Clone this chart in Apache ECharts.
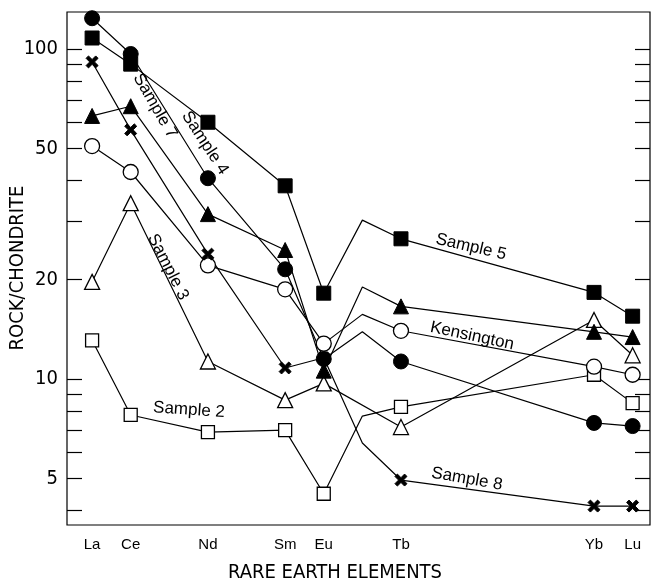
<!DOCTYPE html>
<html>
<head>
<meta charset="utf-8">
<script src="https://cdn.jsdelivr.net/npm/echarts@6/dist/echarts.min.js"></script>
<style>
html,body{margin:0;padding:0;background:#fff;}
#chart{width:653px;height:583px;}
</style>
</head>
<body>
<div id="chart"></div>
<script>
// ---- data ----
const elements = ['La', 'Ce', 'Nd', 'Sm', 'Eu', 'Tb', 'Yb', 'Lu'];
const atomicNumbers = [57, 58, 60, 62, 63, 65, 70, 71];
const gdNumber = 64; // Gd: line bend only, no measured marker

const sample4 = [124, 96.6, 40.6, 21.5, 11.5, 11.3, 7.36, 7.2];
const sample4Gd = 13.9;
const sample5 = [108, 90, 60, 38.5, 18.2, 26.6, 18.3, 15.5];
const sample5Gd = 30.3;
const sample7 = [62.7, 67.1, 31.6, 24.6, 10.6, 16.6, 13.9, 13.4];
const sample7Gd = 19.0;
const kensington = [50.8, 42.4, 22.1, 18.7, 12.8, 14.0, 10.9, 10.3];
const kensingtonGd = 15.7;
const sample8 = [91.4, 56.9, 23.9, 10.8, 11.6, 4.94, 4.12, 4.12];
const sample8Gd = 6.4;
const sample3 = [19.7, 34.1, 11.3, 8.63, 9.7, 7.15, 15.1, 11.8];
const sample3Gd = null;
const sample2 = [13.1, 7.78, 6.9, 7.0, 4.49, 8.23, 10.3, 8.45];
const sample2Gd = 7.72;

const yTickValues = [4, 5, 6, 7, 8, 9, 10, 20, 30, 40, 50, 60, 70, 80, 90, 100];
const yLabelValues = [5, 10, 20, 50, 100];
const yMin = 3.61, yMax = 129.5;
const xMin = 56.35, xMax = 71.45;

// ---- build ----
function buildData(vals, gd) {
  const pts = atomicNumbers.map((x, i) => ({ value: [x, vals[i]] }));
  if (gd != null) pts.splice(5, 0, { value: [gdNumber, gd], symbol: 'none' });
  return pts;
}
const xPath = 'path://M0,2 L2,0 L5,3 L8,0 L10,2 L7,5 L10,8 L8,10 L5,7 L2,10 L0,8 L3,5 Z';

function mk(name, vals, gd, symbol, size, filled) {
  return {
    name: name, type: 'line', xAxisIndex: 0, yAxisIndex: 0,
    data: buildData(vals, gd),
    symbol: symbol, symbolSize: size,
    lineStyle: { color: '#000', width: 1.2 },
    itemStyle: filled ? { color: '#000', borderColor: '#000', borderWidth: 1 }
                      : { color: '#fff', borderColor: '#000', borderWidth: 1.3 },
    showAllSymbol: true,
    z: 3
  };
}

const series = [
  mk('Sample 2', sample2, sample2Gd, 'rect', 13, false),
  mk('Sample 3', sample3, sample3Gd, 'triangle', 15, false),
  mk('Kensington', kensington, kensingtonGd, 'circle', 15, false),
  mk('Sample 8', sample8, sample8Gd, xPath, 12, true),
  mk('Sample 7', sample7, sample7Gd, 'triangle', 15, true),
  mk('Sample 5', sample5, sample5Gd, 'rect', 14, true),
  mk('Sample 4', sample4, sample4Gd, 'circle', 15, true)
];

const narrow = "'Liberation Sans Narrow', 'DejaVu Sans Condensed', sans-serif";
const sans = "'Liberation Sans', Arial, sans-serif";

const decoY = (pos, labels) => ({
  type: 'value', gridIndex: 0, position: pos,
  min: Math.log10(yMin), max: Math.log10(yMax),
  axisLine: { show: false },
  splitLine: { show: false },
  axisTick: { show: true, inside: true, length: 15,
    lineStyle: { color: '#000', width: 1.2 },
    customValues: yTickValues.map(v => Math.log10(v)) },
  axisLabel: labels ? {
    show: true, margin: 9, color: '#000', fontFamily: narrow, fontSize: 20,
    customValues: yLabelValues.map(v => Math.log10(v)),
    formatter: v => String(Math.round(Math.pow(10, v)))
  } : { show: false }
});

function lbl(text, x, y, deg) {
  return {
    type: 'text', x: x, y: y, rotation: -deg * Math.PI / 180,
    style: { text: text, fill: '#000', font: "17px " + sans, align: 'center', verticalAlign: 'middle' },
    z: 10
  };
}

const option = {
  animation: false,
  backgroundColor: '#fff',
  grid: { left: 67, right: 3, top: 12, bottom: 58, outerBoundsMode: 'none', containLabel: false,
    show: true, borderColor: '#000', borderWidth: 1.2, backgroundColor: 'transparent' },
  xAxis: {
    type: 'value', min: xMin, max: xMax,
    axisLine: { show: false }, axisTick: { show: false }, splitLine: { show: false },
    axisLabel: {
      color: '#000', fontFamily: sans, fontSize: 15, margin: 12,
      customValues: atomicNumbers,
      formatter: v => elements[atomicNumbers.indexOf(Math.round(v))] || ''
    }
  },
  yAxis: [
    { type: 'log', logBase: 10, min: yMin, max: yMax, show: false, splitLine: { show: false } },
    decoY('left', true),
    decoY('right', false)
  ],
  series: series,
  graphic: [
    { type: 'text', x: 335, y: 573, style: { text: 'RARE EARTH ELEMENTS', fill: '#000', font: "20px " + narrow, align: 'center', verticalAlign: 'middle' } },
    { type: 'text', x: 18, y: 268, rotation: Math.PI / 2, style: { text: 'ROCK/CHONDRITE', fill: '#000', font: "20px " + narrow, align: 'center', verticalAlign: 'middle' } },
    lbl('Sample 4', 205, 143, 57),
    lbl('Sample 7', 155, 106, 60),
    lbl('Sample 3', 168, 267, 63),
    lbl('Sample 2', 189, 410, 4),
    lbl('Sample 5', 471, 247, 13),
    lbl('Kensington', 472, 336, 12),
    lbl('Sample 8', 467, 479, 10)
  ]
};

const chart = echarts.init(document.getElementById('chart'), null, { renderer: 'canvas' });
chart.setOption(option);
</script>
</body>
</html>
